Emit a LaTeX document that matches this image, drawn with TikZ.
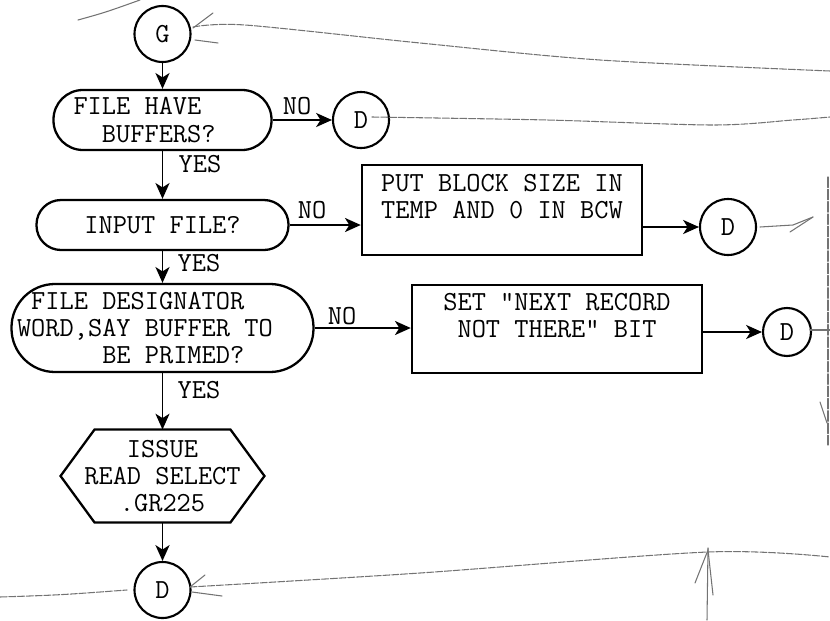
\documentclass[tikz,border=0pt]{standalone}
\usepackage{fontspec}
\usepackage{tikz}
\usetikzlibrary{arrows.meta, positioning}

% fixed typewriter word spaces inside left-aligned nodes
\newcommand{\monospaces}{\spaceskip=\fontcharwd\font`X\relax\xspaceskip=\spaceskip}

\begin{document}
\begin{tikzpicture}[
  font=\ttfamily\fontsize{15.7}{15.6}\selectfont,
  line width=1.1pt,
  flow/.style={-{Stealth[length=9pt, width=8pt, inset=2.5pt]}},
  conn/.style={circle, draw, line width=1.2pt, minimum size=1.12cm, inner sep=0pt},
  decision/.style={rectangle, draw, line width=1.3pt, inner xsep=0pt, align=left},
  procbox/.style={rectangle, draw, line width=1.4pt, align=center, inner sep=0pt},
  lbl/.style={inner sep=0pt},
  pencil/.style={black!55, line width=0.6pt, line cap=round},
]
  \useasboundingbox (0,0) rectangle (16.6,12.4);

  % Main column
  \node[conn] (g) at (3.25, 11.72) {G};
  \node[decision, rounded corners=0.59cm, minimum width=4.36cm,
        minimum height=1.2cm, text width=3.56cm] (buf) at (3.25, 10.0)
    {\monospaces FILE HAVE\\\hphantom{XX}BUFFERS?};
  \node[decision, rounded corners=0.49cm, minimum width=5.04cm,
        minimum height=1.0cm, align=center] (inp) at (3.25, 7.9)
    {INPUT FILE?};
  \node[decision, rounded corners=0.87cm, minimum width=6.04cm,
        minimum height=1.76cm, text width=5.82cm] (desig) at (3.25, 5.84)
    {\monospaces\hphantom{X}FILE DESIGNATOR\\WORD,SAY BUFFER TO\\\hphantom{XXXXXX}BE PRIMED?};
  \node[minimum width=4.04cm, minimum height=1.82cm, align=center,
        inner sep=0pt] (issue) at (3.25, 2.88)
    {ISSUE\\READ SELECT\\.GR225};
  \draw[line width=1.3pt] (issue.west) -- ([xshift=0.68cm]issue.north west)
    -- ([xshift=-0.68cm]issue.north east) -- (issue.east)
    -- ([xshift=-0.68cm]issue.south east) -- ([xshift=0.68cm]issue.south west)
    -- cycle;
  \node[conn] (d4) at (3.25, 0.6) {D};

  % Right branches
  \node[conn] (d1) at (7.22, 10.0) {D};
  \node[procbox, minimum width=5.6cm, minimum height=1.8cm] (block) at (10.04, 8.2)
    {PUT BLOCK SIZE IN\\TEMP AND 0 IN BCW\\\mbox{}};
  \node[conn] (d2) at (14.56, 7.86) {D};
  \node[procbox, minimum width=5.8cm, minimum height=1.76cm] (nextrec) at (11.14, 5.82)
    {SET "NEXT RECORD\\NOT THERE" BIT\\\mbox{}};
  \node[conn, minimum size=0.96cm] (d3) at (15.74, 5.76) {D};

  % Branch labels
  \node[lbl] (no1) at (5.94, 10.28) {NO};
  \node[lbl] (yes1) at (4.0, 9.12) {YES};
  \node[lbl] (no2) at (6.24, 8.2) {NO};
  \node[lbl] (yes2) at (3.98, 7.14) {YES};
  \node[lbl] (no3) at (6.84, 6.08) {NO};
  \node[lbl] (yes3) at (3.98, 4.6) {YES};

  % Flow lines
  \draw[flow] (g) -- (buf);
  \draw[flow] (buf) -- (inp);
  \draw[flow] (inp) -- (desig);
  \draw[flow] (desig) -- (issue);
  \draw[flow] (issue) -- (d4);
  \draw[flow] (buf) -- (d1);
  \draw[flow] (inp.east) -- (inp.east -| block.west);
  \draw[flow] (block.east |- d2) -- (d2);
  \draw[flow] (desig.east) -- (desig.east -| nextrec.west);
  \draw[flow] (nextrec.east |- d3) -- (d3);

  % Pencil marks
  \draw[pencil] (1.56,12.0) .. controls (2.1,12.15) .. (2.8,12.4);
  \draw[pencil] (3.86,11.84) -- (4.26,12.14);
  \draw[pencil] (3.9,11.6) -- (4.36,11.54);
  \draw[pencil, dash pattern=on 4pt off 1pt] plot[smooth] coordinates
    {(3.86,11.86) (4.9,11.9) (8.4,11.54) (12.0,11.2) (16.6,10.98)};
  \draw[pencil, dash pattern=on 4pt off 1pt] plot[smooth] coordinates
    {(7.44,10.06) (10.94,10.0) (14.26,9.9) (15.86,10.0) (16.6,10.06)};
  \draw[pencil] (15.2,7.86) -- (15.86,7.9) -- (16.26,8.06);
  \draw[pencil] (15.8,7.76) -- (16.26,8.06);
  \draw[pencil, dash pattern=on 6pt off 1pt] (16.56,8.86) -- (16.56,3.5);
  \draw[pencil] (16.4,4.36) -- (16.54,3.94);
  \draw[pencil] (16.2,5.8) -- (16.6,5.8);
  \draw[pencil, dash pattern=on 4pt off 1pt] (0,0.46) .. controls (1.2,0.5) .. (2.54,0.6);
  \draw[pencil] (3.8,0.66) -- (4.1,0.9);
  \draw[pencil] (3.84,0.56) -- (4.44,0.48);
  \draw[pencil, dash pattern=on 4pt off 1pt] plot[smooth] coordinates
    {(3.8,0.66) (8.4,0.94) (14.16,1.36) (16.6,1.26)};
  \draw[pencil] (14.14,0) -- (14.16,1.44);
  \draw[pencil] (13.9,0.74) -- (14.16,1.4) -- (14.26,0.5);
\end{tikzpicture}
\end{document}
